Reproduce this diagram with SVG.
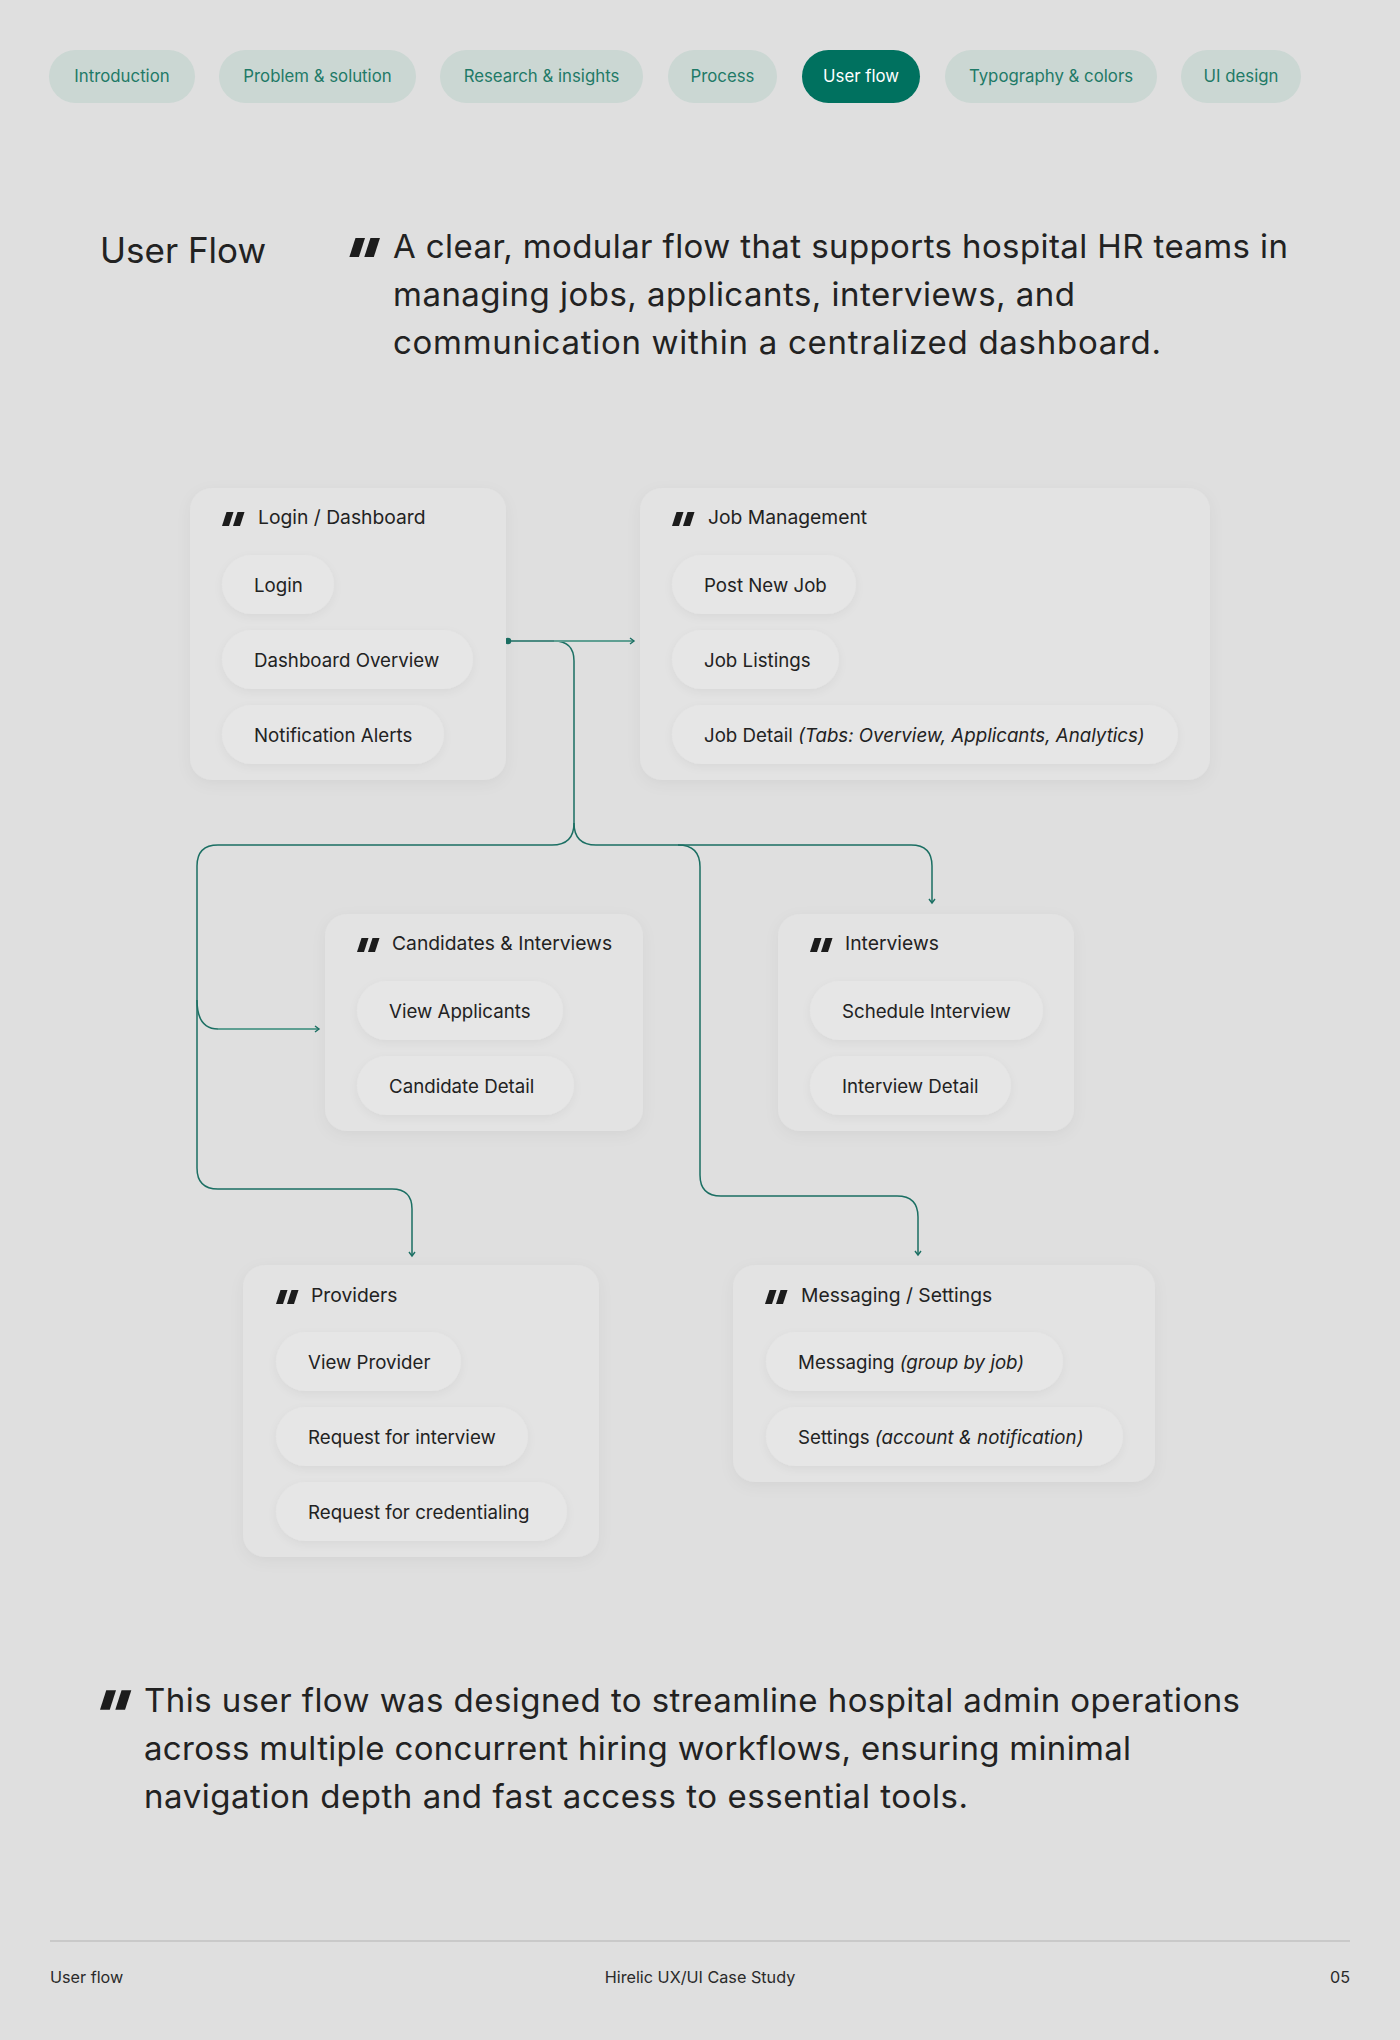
<svg xmlns="http://www.w3.org/2000/svg" width="1400" height="2040" viewBox="0 0 1400 2040">
<defs>
<style>
text{font-family:Inter,"Noto Sans","Liberation Sans",sans-serif;fill:#222}
.nav{fill:#cbd7d3}
.navt{font-size:16.8px;fill:#1f7a67;text-anchor:middle}
.card{fill:#e3e3e3;filter:url(#cs)}
.pill{fill:#e6e6e6;filter:url(#ps)}
.ct{font-size:19.3px}
.pt{font-size:18.7px}
.q{font-size:33px}
.ft{font-size:16.2px;fill:#2a2a2a}
.ln{fill:none;stroke:#1b6f63;stroke-width:1.5}
.lt{fill:none;stroke:#5f9f92;stroke-width:2}
</style>
<filter id="cs" x="-20%" y="-20%" width="140%" height="140%"><feDropShadow dx="0" dy="4" stdDeviation="7" flood-color="#000" flood-opacity="0.05"/></filter>
<filter id="ps" x="-20%" y="-30%" width="140%" height="160%"><feDropShadow dx="0" dy="3" stdDeviation="4" flood-color="#000" flood-opacity="0.05"/></filter>
<symbol id="qi" viewBox="0 0 23 14"><polygon points="0,14 7,14 11.5,0 4.5,0" fill="#1c1c1c"/><polygon points="11,14 18,14 22.5,0 15.5,0" fill="#1c1c1c"/></symbol>
<marker id="ah" markerWidth="10" markerHeight="10" refX="5" refY="4" orient="auto" markerUnits="userSpaceOnUse"><path d="M1,1 L5,4 L1,7" fill="none" stroke="#1b6f63" stroke-width="1.4"/></marker>
</defs>
<rect width="1400" height="2040" fill="#dfdfdf"/>

<g id="nav">
<rect class="nav" x="49" y="50" width="146" height="53" rx="26.5"/><text class="navt" x="122" y="82">Introduction</text>
<rect class="nav" x="219" y="50" width="197" height="53" rx="26.5"/><text class="navt" x="317.5" y="82">Problem &amp; solution</text>
<rect class="nav" x="440" y="50" width="203" height="53" rx="26.5"/><text class="navt" x="541.5" y="82">Research &amp; insights</text>
<rect class="nav" x="668" y="50" width="109" height="53" rx="26.5"/><text class="navt" x="722.5" y="82">Process</text>
<rect x="802" y="50" width="118" height="53" rx="26.5" fill="#00715f"/><text class="navt" x="861" y="82" style="fill:#fff">User flow</text>
<rect class="nav" x="945" y="50" width="212" height="53" rx="26.5"/><text class="navt" x="1051" y="82">Typography &amp; colors</text>
<rect class="nav" x="1181" y="50" width="120" height="53" rx="26.5"/><text class="navt" x="1241" y="82">UI design</text>
</g>

<g id="header">
<text x="100" y="263" font-size="35">User Flow</text>
<use href="#qi" x="349" y="238" width="32" height="19"/>
<text class="q" x="393" y="258" textLength="895">A clear, modular flow that supports hospital HR teams in</text>
<text class="q" x="393" y="306" textLength="682">managing jobs, applicants, interviews, and</text>
<text class="q" x="393" y="354" textLength="768">communication within a centralized dashboard.</text>
</g>

<g id="connectors">
<path class="ln" d="M508,641 H554 Q574,641 574,661 V823 Q574,845 552,845 H218 Q197,845 197,866 V1168 Q197,1189 218,1189 H392 Q412,1189 412,1209 V1256" marker-end="url(#ah)"/>
<path class="lt" d="M554,641 H634" marker-end="url(#ah)"/>
<path class="ln" d="M574,823 Q574,845 596,845 H911 Q932,845 932,866 V903" marker-end="url(#ah)"/>
<path class="ln" d="M678,845 Q700,845 700,867 V1175 Q700,1196 721,1196 H897 Q918,1196 918,1217 V1255" marker-end="url(#ah)"/>
<path class="ln" d="M197,1000 Q197,1029 218,1029"/>
<path class="lt" d="M218,1029 H319" marker-end="url(#ah)"/>
<circle cx="508" cy="641" r="3.2" fill="#1b6f63"/>
</g>

<g id="login-dashboard">
<rect class="card" x="190" y="488" width="316" height="292" rx="22"/>
<use href="#qi" x="222" y="512" width="23" height="14"/>
<text class="ct" x="258" y="524">Login / Dashboard</text>
<rect class="pill" x="222" y="555" width="112" height="59" rx="29.5"/><text class="pt" x="254" y="592">Login</text>
<rect class="pill" x="222" y="630" width="251" height="59" rx="29.5"/><text class="pt" x="254" y="667">Dashboard Overview</text>
<rect class="pill" x="222" y="705" width="222" height="59" rx="29.5"/><text class="pt" x="254" y="742">Notification Alerts</text>
</g>

<g id="job-management">
<rect class="card" x="640" y="488" width="570" height="292" rx="22"/>
<use href="#qi" x="672" y="512" width="23" height="14"/>
<text class="ct" x="708" y="524">Job Management</text>
<rect class="pill" x="672" y="555" width="184" height="59" rx="29.5"/><text class="pt" x="704" y="592">Post New Job</text>
<rect class="pill" x="672" y="630" width="167" height="59" rx="29.5"/><text class="pt" x="704" y="667">Job Listings</text>
<rect class="pill" x="672" y="705" width="506" height="59" rx="29.5"/><text class="pt" x="704" y="742">Job Detail <tspan font-style="italic">(Tabs: Overview, Applicants, Analytics)</tspan></text>
</g>

<g id="candidates-interviews">
<rect class="card" x="325" y="914" width="318" height="217" rx="22"/>
<use href="#qi" x="357" y="938" width="23" height="14"/>
<text class="ct" x="392" y="950">Candidates &amp; Interviews</text>
<rect class="pill" x="357" y="981" width="206" height="59" rx="29.5"/><text class="pt" x="389" y="1018">View Applicants</text>
<rect class="pill" x="357" y="1056" width="217" height="59" rx="29.5"/><text class="pt" x="389" y="1093">Candidate Detail</text>
</g>

<g id="interviews">
<rect class="card" x="778" y="914" width="296" height="217" rx="22"/>
<use href="#qi" x="810" y="938" width="23" height="14"/>
<text class="ct" x="845" y="950">Interviews</text>
<rect class="pill" x="810" y="981" width="233" height="59" rx="29.5"/><text class="pt" x="842" y="1018">Schedule Interview</text>
<rect class="pill" x="810" y="1056" width="201" height="59" rx="29.5"/><text class="pt" x="842" y="1093">Interview Detail</text>
</g>

<g id="providers">
<rect class="card" x="243" y="1265" width="356" height="292" rx="22"/>
<use href="#qi" x="276" y="1290" width="23" height="14"/>
<text class="ct" x="311" y="1302">Providers</text>
<rect class="pill" x="276" y="1332" width="185" height="59" rx="29.5"/><text class="pt" x="308" y="1369">View Provider</text>
<rect class="pill" x="276" y="1407" width="252" height="59" rx="29.5"/><text class="pt" x="308" y="1444">Request for interview</text>
<rect class="pill" x="276" y="1482" width="291" height="59" rx="29.5"/><text class="pt" x="308" y="1519">Request for credentialing</text>
</g>

<g id="messaging-settings">
<rect class="card" x="733" y="1265" width="422" height="217" rx="22"/>
<use href="#qi" x="765" y="1290" width="23" height="14"/>
<text class="ct" x="801" y="1302">Messaging / Settings</text>
<rect class="pill" x="766" y="1332" width="297" height="59" rx="29.5"/><text class="pt" x="798" y="1369">Messaging <tspan font-style="italic">(group by job)</tspan></text>
<rect class="pill" x="766" y="1407" width="357" height="59" rx="29.5"/><text class="pt" x="798" y="1444">Settings <tspan font-style="italic">(account &amp; notification)</tspan></text>
</g>

<g id="summary">
<use href="#qi" x="100" y="1690" width="32" height="20"/>
<text class="q" x="144" y="1712" textLength="1096">This user flow was designed to streamline hospital admin operations</text>
<text class="q" x="144" y="1760" textLength="987">across multiple concurrent hiring workflows, ensuring minimal</text>
<text class="q" x="144" y="1808" textLength="824">navigation depth and fast access to essential tools.</text>
</g>

<g id="footer">
<line x1="50" y1="1941" x2="1350" y2="1941" stroke="#c2c2c2" stroke-width="1.5"/>
<text class="ft" x="50" y="1983">User flow</text>
<text class="ft" x="700" y="1983" text-anchor="middle">Hirelic UX/UI Case Study</text>
<text class="ft" x="1350" y="1983" text-anchor="end">05</text>
</g>
</svg>
